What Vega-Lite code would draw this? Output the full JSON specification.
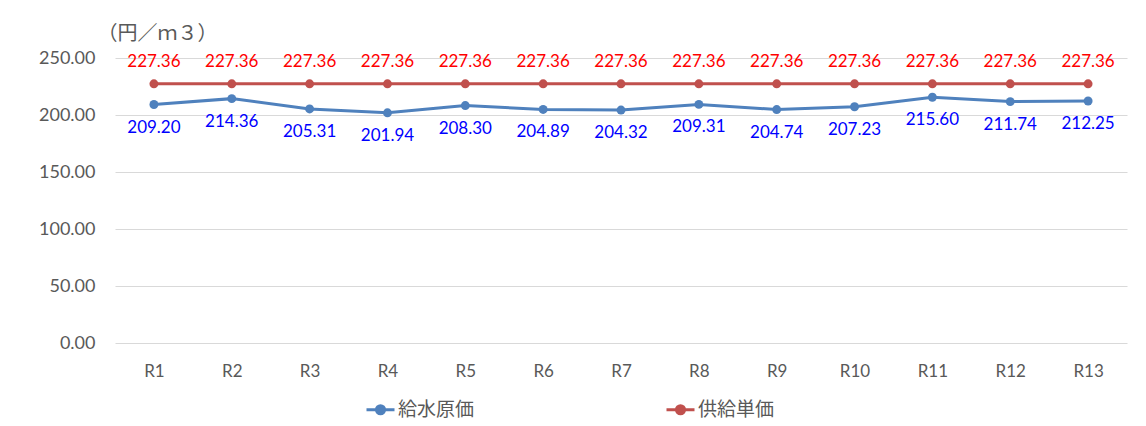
{
  "$schema": "https://vega.github.io/schema/vega-lite/v6.json",
  "width": 1012,
  "height": 285,
  "autosize": {"type": "none"},
  "padding": {"left": 115, "top": 58, "right": 19, "bottom": 83},
  "background": "white",
  "config": {
    "view": {"stroke": null},
    "font": "Lato, 'Noto Sans CJK JP'"
  },
  "data": {
    "values": [
      {"period": "R1", "series": "給水原価", "value": 209.20},
      {"period": "R2", "series": "給水原価", "value": 214.36},
      {"period": "R3", "series": "給水原価", "value": 205.31},
      {"period": "R4", "series": "給水原価", "value": 201.94},
      {"period": "R5", "series": "給水原価", "value": 208.30},
      {"period": "R6", "series": "給水原価", "value": 204.89},
      {"period": "R7", "series": "給水原価", "value": 204.32},
      {"period": "R8", "series": "給水原価", "value": 209.31},
      {"period": "R9", "series": "給水原価", "value": 204.74},
      {"period": "R10", "series": "給水原価", "value": 207.23},
      {"period": "R11", "series": "給水原価", "value": 215.60},
      {"period": "R12", "series": "給水原価", "value": 211.74},
      {"period": "R13", "series": "給水原価", "value": 212.25},
      {"period": "R1", "series": "供給単価", "value": 227.36},
      {"period": "R2", "series": "供給単価", "value": 227.36},
      {"period": "R3", "series": "供給単価", "value": 227.36},
      {"period": "R4", "series": "供給単価", "value": 227.36},
      {"period": "R5", "series": "供給単価", "value": 227.36},
      {"period": "R6", "series": "供給単価", "value": 227.36},
      {"period": "R7", "series": "供給単価", "value": 227.36},
      {"period": "R8", "series": "供給単価", "value": 227.36},
      {"period": "R9", "series": "供給単価", "value": 227.36},
      {"period": "R10", "series": "供給単価", "value": 227.36},
      {"period": "R11", "series": "供給単価", "value": 227.36},
      {"period": "R12", "series": "供給単価", "value": 227.36},
      {"period": "R13", "series": "供給単価", "value": 227.36}
    ]
  },
  "encoding": {
    "x": {
      "field": "period",
      "type": "nominal",
      "sort": null,
      "scale": {"type": "point", "padding": 0.5},
      "axis": {
        "title": null,
        "labelAngle": 0,
        "domain": false,
        "ticks": false,
        "grid": false,
        "labelPadding": 20,
        "labelFontSize": 17,
        "labelColor": "#595959"
      }
    },
    "y": {
      "field": "value",
      "type": "quantitative",
      "scale": {"domain": [0, 250], "nice": false},
      "axis": {
        "values": [0, 50, 100, 150, 200, 250],
        "format": ".2f",
        "domain": false,
        "ticks": false,
        "labelPadding": 20,
        "labelFontSize": 18,
        "labelColor": "#595959",
        "gridColor": "#D9D9D9",
        "gridWidth": 1.2,
        "title": "（円／ｍ３）",
        "titleAngle": 0,
        "titleX": 42,
        "titleY": -25,
        "titleAlign": "center",
        "titleBaseline": "middle",
        "titleFontSize": 20,
        "titleFontWeight": "normal",
        "titleColor": "#595959"
      }
    }
  },
  "layer": [
    {
      "mark": {"type": "line", "strokeWidth": 3, "point": {"filled": true, "size": 80}},
      "encoding": {
        "color": {
          "field": "series",
          "type": "nominal",
          "scale": {"domain": ["給水原価", "供給単価"], "range": ["#4F81BD", "#C0504D"]},
          "legend": {
            "title": null,
            "orient": "none",
            "direction": "horizontal",
            "legendX": 250,
            "legendY": 336,
            "columnPadding": 185,
            "symbolType": "M-1,0H1M0.29,0A0.29,0.29,0,1,1,-0.29,0A0.29,0.29,0,1,1,0.29,0Z",
            "symbolSize": 784,
            "symbolStrokeWidth": 3,
            "labelFontSize": 19,
            "labelColor": "#595959",
            "labelOffset": 2,
            "encode": {
              "symbols": {"update": {"fill": {"scale": "color", "field": "value"}, "opacity": {"value": 1}}}
            }
          }
        }
      }
    },
    {
      "transform": [{"filter": "datum.series === '供給単価'"}],
      "mark": {"type": "text", "dy": -22, "fontSize": 17, "color": "#FF0000"},
      "encoding": {"text": {"field": "value", "type": "quantitative", "format": ".2f"}}
    },
    {
      "transform": [{"filter": "datum.series === '給水原価'"}],
      "mark": {"type": "text", "dy": 23, "fontSize": 17, "color": "#0000FF"},
      "encoding": {"text": {"field": "value", "type": "quantitative", "format": ".2f"}}
    }
  ]
}
